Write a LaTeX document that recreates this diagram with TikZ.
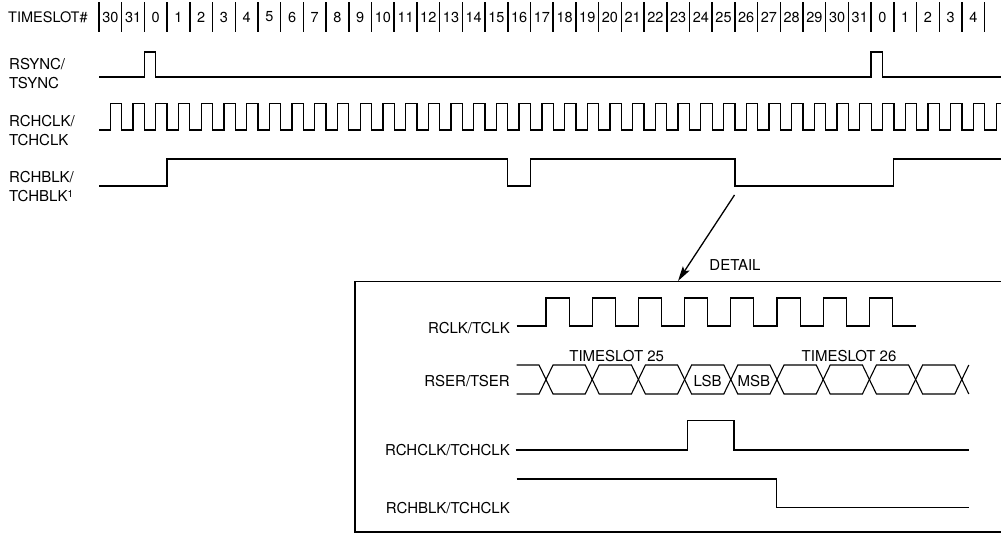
\documentclass[tikz,border=0pt]{standalone}
\usepackage{fontspec}
\setmainfont{TeX Gyre Heros}
\usetikzlibrary{arrows.meta}

\begin{document}
\begin{tikzpicture}[x=1pt, y=-1pt,
    sig/.style={line width=1.3pt},
    dsig/.style={line width=1.1pt},
    slotbar/.style={line width=1.5pt},
    lbl/.style={font=\fontsize{15}{19}\selectfont, inner sep=0pt},
    slotlbl/.style={font=\fontsize{14.5}{16}\selectfont, inner sep=0pt}]
    \useasboundingbox (0,0) rectangle (1001,533);

    % timeslot header
    \node[slotlbl, anchor=west] (tslot) at (8,17) {TIMESLOT\#};
    \foreach \k in {0,...,39}
        \draw[slotbar] ({99+22.71*\k},2) -- ({99+22.71*\k},32);
    \foreach \i in {0,...,38} {
        \pgfmathtruncatemacro\lab{mod(\i+30,32)}
        \node[slotlbl] (ts\i) at ({99+22.71*\i+11.355},17) {\lab};
    }

    % signal names
    \node[lbl, anchor=west, align=left] (rsync) at (9,74) {RSYNC/\\TSYNC};
    \node[lbl, anchor=west, align=left] (rchclk) at (9,130.5) {RCHCLK/\\TCHCLK};
    \node[lbl, anchor=west, align=left] (rchblk) at (9,187)
        {RCHBLK/\\TCHBLK\raisebox{0.6ex}{\fontsize{10}{10}\selectfont 1}};

    % waveforms
    \draw[sig] (99,77) -- (144.4,77) -- (144.4,52) -- (155.8,52) -- (155.8,77)
        -- (871.1,77) -- (871.1,52) -- (882.5,52) -- (882.5,77) -- (1001,77);
    \draw[sig] (99,130) \foreach \k in {0,...,38} {
            -- ({99+22.71*\k+11.355},130) -- ++(0,-26.5)
            -- ({99+22.71*(\k+1)},103.5) -- ++(0,26.5) }
        -- (996.2,130) -- (996.2,103.5) -- (1001,103.5);
    \draw[sig] (99,186) -- (167.1,186) -- (167.1,159) -- (507.8,159) -- (507.8,186)
        -- (530.5,186) -- (530.5,159) -- (734.9,159) -- (734.9,186)
        -- (893.8,186) -- (893.8,159) -- (1001,159);

    % detail
    \coordinate (dtlsrc) at (734.5,195);
    \coordinate (dtltip) at (678,281);
    \draw[sig, -{Stealth[length=15pt, width=8pt, inset=3pt]}] (dtlsrc) -- (dtltip);
    \node[lbl] (detail) at (735,265) {DETAIL};
    \draw[sig] (1001,281.5) -- (355,281.5) -- (355,532) -- (1001,532);

    \node[lbl, anchor=east] (rclk) at (510,328) {RCLK/TCLK};
    \node[lbl, anchor=east] (rser) at (510,381.5) {RSER/TSER};
    \node[lbl, anchor=east] (dchclk) at (510,450) {RCHCLK/TCHCLK};
    \node[lbl, anchor=east] (dchblk) at (510,508) {RCHBLK/TCHCLK};

    \draw[dsig] (516.7,326) \foreach \i in {0,...,7} {
            -- ({546+46.2*\i},326) -- ++(0,-28) -- ++(23.1,0) -- ++(0,28) }
        -- (916,326);

    \draw[dsig] (516.7,365) -- (539,365) -- (546,379.5) -- (539,394) -- (516.7,394);
    \foreach \i in {0,...,8}
        \draw[dsig] ({546+46.2*\i},379.5) -- ++(7,-14.5) -- ({546+46.2*(\i+1)-7},365)
            -- ++(7,14.5) -- ++(-7,14.5) -- ({546+46.2*\i+7},394) -- cycle;
    \draw[dsig] (968.8,365) -- (961.8,379.5) -- (968.8,394);
    \node[lbl] (ts25) at (616.7,356.5) {TIMESLOT 25};
    \node[lbl] (ts26) at (849,356) {TIMESLOT 26};
    \node[lbl] (lsb) at (707.7,381) {LSB};
    \node[lbl] (msb) at (753.9,381) {MSB};

    \draw[dsig] (515.7,450) -- (687.7,450) -- (687.7,420.7) -- (734,420.7)
        -- (734,450) -- (969.3,450);
    \draw[dsig] (516.7,479) -- (776.3,479) -- (776.3,507.7) -- (969.3,507.7);
\end{tikzpicture}
\end{document}
